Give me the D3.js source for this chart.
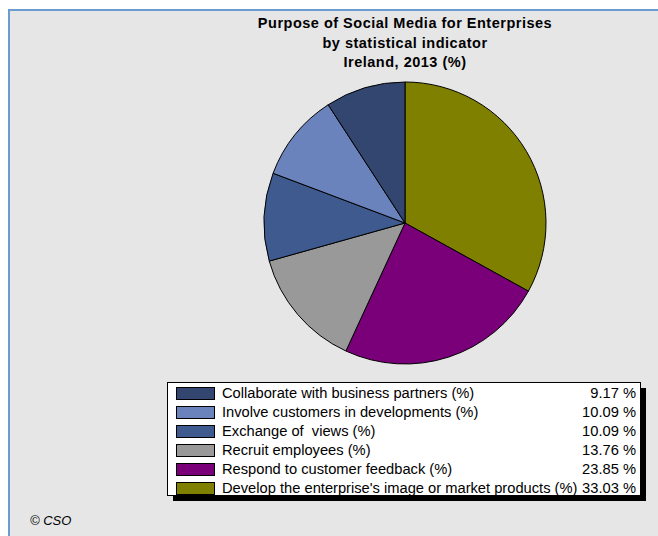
<!DOCTYPE html>
<html>
<head>
<meta charset="utf-8">
<script src="https://cdn.jsdelivr.net/npm/d3@7"></script>
<style>
  html, body { margin: 0; padding: 0; background: #ffffff; }
  svg { display: block; }
  text { white-space: pre; }
</style>
</head>
<body>
<svg id="chart" width="658" height="536"></svg>
<script>
// Purpose of Social Media for Enterprises, Ireland 2013 (%)
const categories = [
  "Collaborate with business partners (%)",
  "Involve customers in developments (%)",
  "Exchange of  views (%)",
  "Recruit employees (%)",
  "Respond to customer feedback (%)",
  "Develop the enterprise's image or market products (%)"
];
const values = [9.17, 10.09, 10.09, 13.76, 23.85, 33.03];
const valueLabels = ["9.17 %", "10.09 %", "10.09 %", "13.76 %", "23.85 %", "33.03 %"];
const colors = ["#334670", "#6a83bd", "#3e5a8e", "#999999", "#7a007a", "#7f7f00"];
const titleLines = ["Purpose of Social Media for Enterprises", "by statistical indicator", "Ireland, 2013 (%)"];
const credit = "\u00A9 CSO";

const svg = d3.select("#chart");
const W = 658, H = 536;

// panel background with blue top/left frame
svg.append("rect").attr("x", 9).attr("y", 10).attr("width", W - 9).attr("height", H - 10)
  .attr("fill", "#e6e6e6");
svg.append("rect").attr("x", 8).attr("y", 9).attr("width", W - 8).attr("height", 2).attr("fill", "#6a9bd1");
svg.append("rect").attr("x", 8).attr("y", 9).attr("width", 2).attr("height", H - 9).attr("fill", "#6a9bd1");

// title
const cx = 405, cy = 223, R = 141;
svg.append("g").selectAll("text").data(titleLines).join("text")
  .attr("x", cx).attr("y", (d, i) => 28 + i * 19.5)
  .attr("text-anchor", "middle")
  .attr("font-family", "Liberation Sans, Arial, sans-serif")
  .attr("font-weight", "bold").attr("font-size", "14.5px").attr("letter-spacing", "0.5px")
  .attr("fill", "#000")
  .text(d => d);

// pie: drawn clockwise from 12 o'clock, last category first
const items = categories.map((c, i) => ({ name: c, value: values[i], color: colors[i] }));
const pie = d3.pie().sort(null).value(d => d.value).startAngle(0).endAngle(2 * Math.PI);
const arc = d3.arc().innerRadius(0).outerRadius(R);
svg.append("g").attr("transform", `translate(${cx},${cy})`)
  .selectAll("path").data(pie(items.slice().reverse())).join("path")
  .attr("d", arc).attr("fill", d => d.data.color)
  .attr("stroke", "#000").attr("stroke-width", 1).attr("stroke-linejoin", "round");

// legend box with drop shadow
const lx = 167, ly = 382, lw = 473, lh = 113;
svg.append("rect").attr("x", lx + 6).attr("y", ly + 6).attr("width", lw).attr("height", lh).attr("fill", "#000");
svg.append("rect").attr("x", lx + 0.5).attr("y", ly + 0.5).attr("width", lw).attr("height", lh)
  .attr("fill", "#fff").attr("stroke", "#000").attr("stroke-width", 1);

const rowY = d3.scalePoint().domain(d3.range(categories.length)).range([393, 488]);
const rows = svg.append("g").selectAll("g").data(items).join("g")
  .attr("transform", (d, i) => `translate(0,${rowY(i)})`);
rows.append("rect").attr("x", 176.5).attr("y", -5.5).attr("width", 38).attr("height", 12)
  .attr("fill", d => d.color).attr("stroke", "#000").attr("stroke-width", 1);
rows.append("text").attr("x", 222).attr("y", 5)
  .attr("font-family", "Liberation Sans, Arial, sans-serif").attr("font-size", "14.7px").attr("fill", "#000")
  .text(d => d.name);
rows.append("text").attr("x", 636).attr("y", 5).attr("text-anchor", "end")
  .attr("font-family", "Liberation Sans, Arial, sans-serif").attr("font-size", "14.7px").attr("fill", "#000")
  .text((d, i) => valueLabels[i]);

// credit
svg.append("text").attr("x", 30).attr("y", 525)
  .attr("font-family", "Liberation Sans, Arial, sans-serif").attr("font-style", "italic")
  .attr("font-size", "13px").attr("fill", "#000").text(credit);
</script>
</body>
</html>
